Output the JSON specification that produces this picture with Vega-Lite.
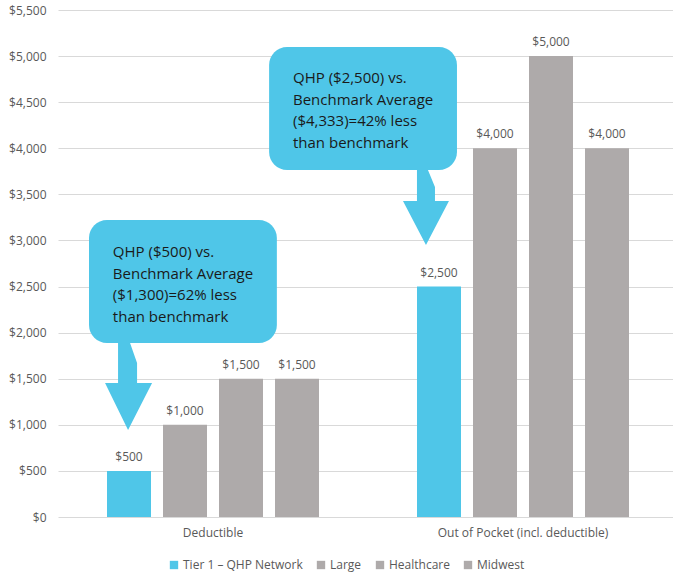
{
  "$schema": "https://vega.github.io/schema/vega-lite/v6.json",
  "width": 620,
  "height": 507,
  "autosize": {"type": "none"},
  "padding": {"left": 58, "top": 10, "right": 0, "bottom": 58},
  "background": "white",
  "config": {
    "font": "Open Sans",
    "view": {"stroke": null},
    "axis": {"labelFont": "Open Sans", "labelColor": "#595959", "labelFontSize": 12},
    "legend": {"labelFont": "Open Sans", "labelColor": "#595959", "labelFontSize": 12}
  },
  "datasets": {
    "bars": [
      {"category": "Deductible", "series": "Tier 1 – QHP Network", "value": 500},
      {"category": "Deductible", "series": "Large", "value": 1000},
      {"category": "Deductible", "series": "Healthcare", "value": 1500},
      {"category": "Deductible", "series": "Midwest", "value": 1500},
      {"category": "Out of Pocket (incl. deductible)", "series": "Tier 1 – QHP Network", "value": 2500},
      {"category": "Out of Pocket (incl. deductible)", "series": "Large", "value": 4000},
      {"category": "Out of Pocket (incl. deductible)", "series": "Healthcare", "value": 5000},
      {"category": "Out of Pocket (incl. deductible)", "series": "Midwest", "value": 4000}
    ],
    "boxes": [
      {"x0": 0.1, "x1": 0.706, "y0": 1888, "y1": 3222, "tx": 0.177, "ty": 2820, "label": "QHP ($500) vs.\nBenchmark Average\n($1,300)=62% less\nthan benchmark"},
      {"x0": 0.681, "x1": 1.287, "y0": 3764, "y1": 5099, "tx": 0.758, "ty": 4708, "label": "QHP ($2,500) vs.\nBenchmark Average\n($4,333)=42% less\nthan benchmark"}
    ],
    "arrow1": [{"ax": 0.226, "ay": 1416}],
    "arrow2": [{"ax": 1.187, "ay": 3357}]
  },
  "layer": [
    {
      "data": {"name": "bars"},
      "layer": [
        {
          "mark": {"type": "bar"},
          "encoding": {
            "x": {"field": "category", "type": "nominal", "sort": null,
              "scale": {"paddingInner": 0, "paddingOuter": 0},
              "axis": {"title": null, "labelAngle": 0, "domain": false, "ticks": false, "labelPadding": 10}},
            "xOffset": {"field": "series", "type": "nominal", "sort": ["Tier 1 – QHP Network", "Large", "Healthcare", "Midwest"],
              "scale": {"paddingInner": 0.2143, "paddingOuter": 0.875}},
            "y": {"field": "value", "type": "quantitative",
              "scale": {"domain": [0, 5500], "nice": false},
              "axis": {"title": null, "values": [0,500,1000,1500,2000,2500,3000,3500,4000,4500,5000,5500],
                "format": "$,.0f", "domain": false, "ticks": false, "labelPadding": 12,
                "gridColor": "#d9d9d9", "gridWidth": 1}},
            "color": {"field": "series", "type": "nominal",
              "sort": ["Tier 1 – QHP Network", "Large", "Healthcare", "Midwest"],
              "scale": {"domain": ["Tier 1 – QHP Network", "Large", "Healthcare", "Midwest"],
                "range": ["#4FC6E8", "#AEAAAA", "#AEAAAA", "#AEAAAA"]},
              "legend": {"title": null, "orient": "none", "direction": "horizontal",
                "legendX": 110, "legendY": 549, "symbolType": "square", "symbolSize": 70,
                "symbolStrokeWidth": 0, "columnPadding": 12, "labelOffset": 3}}
          }
        },
        {
          "mark": {"type": "text", "dy": -14, "fontSize": 12, "color": "#595959"},
          "encoding": {
            "x": {"field": "category", "type": "nominal", "sort": null},
            "xOffset": {"field": "series", "type": "nominal", "sort": ["Tier 1 – QHP Network", "Large", "Healthcare", "Midwest"]},
            "y": {"field": "value", "type": "quantitative"},
            "text": {"field": "value", "type": "quantitative", "format": "$,.0f"}
          }
        }
      ]
    },
    {
      "data": {"name": "boxes"},
      "layer": [
        {
          "mark": {"type": "rect", "color": "#4FC6E8", "cornerRadius": 18},
          "encoding": {
            "x": {"field": "x0", "type": "quantitative", "scale": {"domain": [0, 2], "nice": false, "zero": false}, "axis": null},
            "x2": {"field": "x1"},
            "y": {"field": "y0", "type": "quantitative"},
            "y2": {"field": "y1"}
          }
        },
        {
          "mark": {"type": "text", "align": "left", "baseline": "alphabetic", "fontSize": 15, "lineHeight": 21.5, "lineBreak": "\n", "color": "#1a1a1a"},
          "encoding": {
            "x": {"field": "tx", "type": "quantitative", "scale": {"domain": [0, 2], "nice": false, "zero": false}, "axis": null},
            "y": {"field": "ty", "type": "quantitative"},
            "text": {"field": "label", "type": "nominal"}
          }
        }
      ]
    },
    {
      "data": {"name": "arrow1"},
      "mark": {"type": "point", "filled": true, "opacity": 1, "color": "#4FC6E8", "size": 7569,
        "shape": "M -0.23 -1 L 0.046 -1 L 0.207 -0.54 L 0.207 -0.08 L 0.552 -0.08 L 0 1 L -0.529 -0.08 L -0.23 -0.08 Z"},
      "encoding": {
        "x": {"field": "ax", "type": "quantitative", "scale": {"domain": [0, 2], "nice": false, "zero": false}, "axis": null},
        "y": {"field": "ay", "type": "quantitative"}
      }
    },
    {
      "data": {"name": "arrow2"},
      "mark": {"type": "point", "filled": true, "opacity": 1, "color": "#4FC6E8", "size": 5625,
        "shape": "M -0.24 -1 L 0.053 -1 L 0.24 -0.547 L 0.24 -0.173 L 0.613 -0.173 L 0 1 L -0.613 -0.173 L -0.24 -0.173 Z"},
      "encoding": {
        "x": {"field": "ax", "type": "quantitative", "scale": {"domain": [0, 2], "nice": false, "zero": false}, "axis": null},
        "y": {"field": "ay", "type": "quantitative"}
      }
    }
  ],
  "resolve": {"scale": {"x": "independent", "color": "independent"}, "axis": {"x": "independent"}}
}
